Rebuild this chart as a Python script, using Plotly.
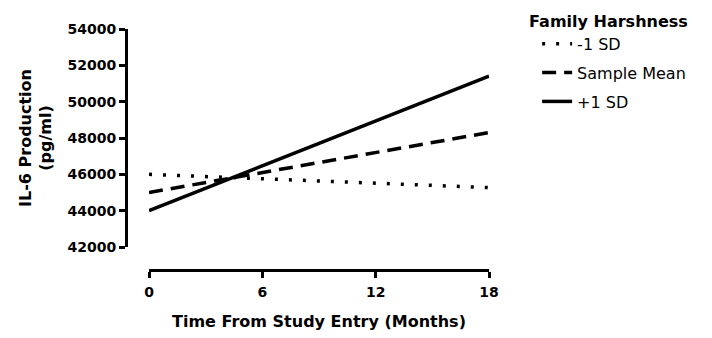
import plotly.graph_objects as go

# Data
time_months = [0, 18]
minus_1sd = [46000, 45270]
sample_mean = [45000, 48300]
plus_1sd = [44000, 51400]
x_ticks = [0, 6, 12, 18]
y_ticks = [42000, 44000, 46000, 48000, 50000, 52000, 54000]

FONT = "DejaVu Sans"

fig = go.Figure()
fig.add_trace(go.Scatter(x=time_months, y=minus_1sd, mode="lines", name="-1 SD",
                         legendgroup="a",
                         line=dict(color="black", width=3.5, dash="3px,11px")))
fig.add_trace(go.Scatter(x=time_months, y=sample_mean, mode="lines", name="Sample Mean",
                         legendgroup="b",
                         line=dict(color="black", width=3.5, dash="14px,8px")))
fig.add_trace(go.Scatter(x=time_months, y=plus_1sd, mode="lines", name="+1 SD",
                         legendgroup="c",
                         line=dict(color="black", width=3.5)))

tickfont = dict(family=FONT, size=14, color="black", weight="bold")
fig.update_layout(
    width=712, height=338,
    margin=dict(l=126, r=223, t=29, b=68, pad=0, autoexpand=False),
    paper_bgcolor="white", plot_bgcolor="white",
    font=dict(family=FONT, color="black"),
    xaxis=dict(domain=[0.0634, 1], range=[0, 18], tickvals=x_ticks,
               ticktext=[str(v) for v in x_ticks],
               ticks="outside", ticklen=6, tickwidth=3, tickcolor="black",
               showline=True, linewidth=3, linecolor="black",
               showgrid=False, zeroline=False, anchor="free", position=0,
               automargin=False, tickfont=tickfont, ticklabelstandoff=2,
               title=dict(text="Time From Study Entry (Months)", standoff=17,
                          font=dict(family=FONT, size=16, color="black", weight="bold"))),
    yaxis=dict(domain=[0.0954, 1], range=[42000, 54000], tickvals=y_ticks,
               ticktext=[str(v) for v in y_ticks],
               ticks="outside", ticklen=6, tickwidth=3, tickcolor="black",
               showline=True, linewidth=3, linecolor="black",
               showgrid=False, zeroline=False, anchor="free", position=0,
               automargin=False, tickfont=tickfont,
               title=dict(text="IL-6 Production<br>(pg/ml)", standoff=10,
                          font=dict(family=FONT, size=16, color="black", weight="bold"))),
    legend=dict(x=1.105, y=1.095, xanchor="left", yanchor="top",
                indentation=10, tracegroupgap=5, traceorder="grouped",
                title=dict(text="Family Harshness",
                           font=dict(family=FONT, size=16, color="black", weight="bold")),
                font=dict(family=FONT, size=16, color="black"),
                bgcolor="rgba(0,0,0,0)"),
)

fig.write_html("out.html", config={"displayModeBar": False},
               post_script="document.body.style.margin='0';")
